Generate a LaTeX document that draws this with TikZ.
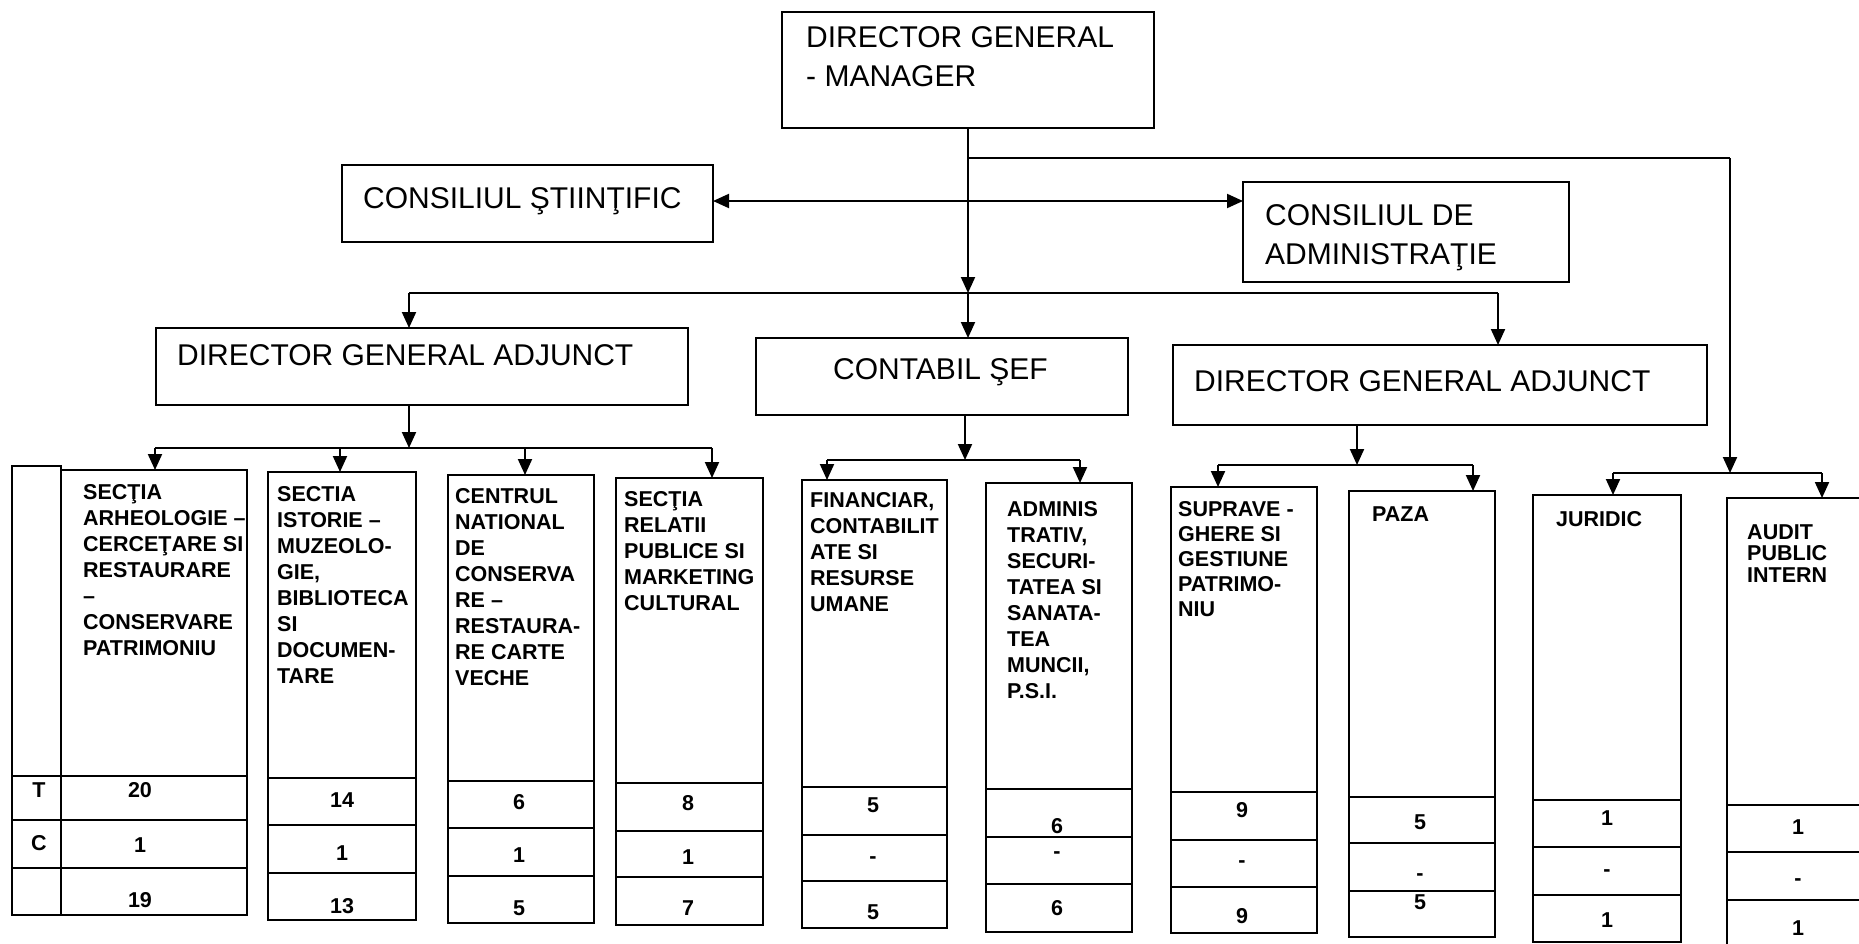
\documentclass[tikz,border=0pt]{standalone}
\usepackage{fontspec}
\setmainfont{Liberation Sans}
\usetikzlibrary{arrows.meta}
\tikzset{
  box/.style={draw, line width=2pt, rectangle, inner sep=0pt, outer sep=0pt, anchor=north west},
  big/.style={font=\fontsize{30}{39}\selectfont, inner sep=0pt, align=left, anchor=north west},
  small/.style={font=\bfseries\fontsize{21.5}{26}\selectfont, inner sep=0pt, align=left, anchor=north west},
  num/.style={font=\bfseries\fontsize{21.5}{26}\selectfont, inner sep=0pt},
  conn/.style={line width=2pt},
  arr/.style={line width=2pt, -{Triangle[width=14pt,length=16pt]}},
  darr/.style={line width=2pt, {Triangle[width=14pt,length=16pt]}-{Triangle[width=14pt,length=16pt]}},
}
\newcommand\unitbox[8]{%
  \node[box, minimum width={#3-#2}, minimum height={#8-#4}] (#1) at (#2,#4) {};
  \draw[conn] (#2,#5) -- (#3,#5);
  \draw[conn] (#2,#6) -- (#3,#6);
  \draw[conn] (#2,#7) -- (#3,#7);
}
\newcommand\unitnums[8]{%
  \node[num] (#1-1) at (#2,#3) {#4};
  \node[num] (#1-2) at (#2,#5) {#6};
  \node[num] (#1-3) at (#2,#7) {#8};
}
\begin{document}
\begin{tikzpicture}[x=1pt,y=-1pt]
\useasboundingbox (0,0) rectangle (1859,943);
\clip (0,0) rectangle (1859,943);

% ---- top level boxes
\node[box, minimum width=372, minimum height=116] (dg) at (782,12) {};
\node[big] (dgt) at (806,26) {DIRECTOR GENERAL\\- MANAGER};

\node[box, minimum width=371, minimum height=77] (cs) at (342,165) {};
\node[big] (cst) at (363,187) {CONSILIUL ŞTIINŢIFIC};

\node[box, minimum width=326, minimum height=100] (ca) at (1243,182) {};
\node[big] (cat) at (1265,204) {CONSILIUL DE\\ADMINISTRAŢIE};

\node[box, minimum width=532, minimum height=77] (dga1) at (156,328) {};
\node[big] (dga1t) at (177,344) {DIRECTOR GENERAL ADJUNCT};

\node[box, minimum width=372, minimum height=77] (csef) at (756,338) {};
\node[big] (cseft) at (833,358) {CONTABIL ŞEF};

\node[box, minimum width=534, minimum height=80] (dga2) at (1173,345) {};
\node[big] (dga2t) at (1194,370) {DIRECTOR GENERAL ADJUNCT};

% ---- bottom unit boxes
\node[box, minimum width=49, minimum height=449] (b1l) at (12,466) {};
\unitbox{b1}{61}{247}{470}{776}{820}{868}{915}
\draw[conn] (12,776) -- (61,776);
\draw[conn] (12,820) -- (61,820);
\draw[conn] (12,868) -- (61,868);
\node[num] (tlab) at (39,790) {T};
\node[num] (clab) at (39,843) {C};
\node[small] (b1t) at (83,484) {SECŢIA\\ARHEOLOGIE –\\CERCEŢARE SI\\RESTAURARE\\–\\CONSERVARE\\PATRIMONIU};
\unitnums{b1n}{140}{790}{20}{845}{1}{900}{19}

\unitbox{b2}{268}{416}{472}{778}{825}{873}{920}
\node[small] (b2t) at (277,486) {SECTIA\\ISTORIE –\\MUZEOLO-\\GIE,\\BIBLIOTECA\\SI\\DOCUMEN-\\TARE};
\unitnums{b2n}{342}{800}{14}{853}{1}{906}{13}

\unitbox{b3}{448}{594}{475}{781}{828}{876}{923}
\node[small] (b3t) at (455,488) {CENTRUL\\NATIONAL\\DE\\CONSERVA\\RE –\\RESTAURA-\\RE CARTE\\VECHE};
\unitnums{b3n}{519}{802}{6}{855}{1}{908}{5}

\unitbox{b4}{616}{763}{478}{783}{831}{877}{925}
\node[small] (b4t) at (624,491) {SECŢIA\\RELATII\\PUBLICE SI\\MARKETING\\CULTURAL};
\unitnums{b4n}{688}{803}{8}{857}{1}{908}{7}

\unitbox{b5}{802}{947}{480}{787}{835}{881}{928}
\node[small] (b5t) at (810,492) {FINANCIAR,\\CONTABILIT\\ATE SI\\RESURSE\\UMANE};
\unitnums{b5n}{873}{805}{5}{860}{-}{912}{5}

\unitbox{b6}{986}{1132}{483}{789}{837}{884}{932}
\node[small] (b6t) at (1007,501) {ADMINIS\\TRATIV,\\SECURI-\\TATEA SI\\SANATA-\\TEA\\MUNCII,\\P.S.I.};
\unitnums{b6n}{1057}{826}{6}{855}{-}{908}{6}

\unitbox{b7}{1171}{1317}{487}{792}{840}{887}{933}
\node[small, font=\bfseries\fontsize{21.5}{25}\selectfont] (b7t) at (1178,501) {SUPRAVE -\\GHERE SI\\GESTIUNE\\PATRIMO-\\NIU};
\unitnums{b7n}{1242}{810}{9}{864}{-}{916}{9}

\unitbox{b8}{1349}{1495}{491}{797}{843}{891}{937}
\node[small] (b8t) at (1372,506) {PAZA};
\unitnums{b8n}{1420}{822}{5}{877}{-}{902}{5}

\unitbox{b9}{1533}{1681}{495}{800}{847}{895}{942}
\node[small] (b9t) at (1556,511) {JURIDIC};
\unitnums{b9n}{1607}{818}{1}{873}{-}{920}{1}

\unitbox{b10}{1727}{1900}{498}{805}{852}{900}{960}
\node[small, font=\bfseries\fontsize{21.5}{21.5}\selectfont] (b10t) at (1747,524) {AUDIT\\PUBLIC\\INTERN};
\unitnums{b10n}{1798}{827}{1}{882}{-}{928}{1}

% ---- connectors, top level
\coordinate (jm) at (968,293);
\coordinate (jl) at (409,293);
\coordinate (jr) at (1498,293);
\coordinate (jt) at (968,158);
\coordinate (jtr) at (1730,158);
\coordinate (jrb) at (1730,473);
\coordinate (jrbl) at (1613,473);
\coordinate (jrbr) at (1822,473);
\coordinate (dy) at (0,201);

\draw[arr] (dg.south) -- (jm);
\draw[arr] (jm) -- (jm |- csef.north);
\draw[conn] (jl) -- (jr);
\draw[arr] (jl) -- (jl |- dga1.north);
\draw[arr] (jr) -- (jr |- dga2.north);
\draw[darr] (cs.east |- dy) -- (ca.west |- dy);
\draw[conn] (jt) -- (jtr);
\draw[arr] (jtr) -- (jrb);
\draw[conn] (jrbl) -- (jrbr);
\draw[arr] (jrbl) -- (jrbl |- b9.north);
\draw[arr] (jrbr) -- (jrbr |- b10.north);

% ---- under DGA1
\coordinate (ja) at (409,448);
\coordinate (k1) at (155,448);
\coordinate (k2) at (340,448);
\coordinate (k3) at (525,448);
\coordinate (k4) at (712,448);
\draw[arr] (ja |- dga1.south) -- (ja);
\draw[conn] (k1) -- (k4);
\draw[arr] (k1) -- (k1 |- b1.north);
\draw[arr] (k2) -- (k2 |- b2.north);
\draw[arr] (k3) -- (k3 |- b3.north);
\draw[arr] (k4) -- (k4 |- b4.north);

% ---- under CONTABIL SEF
\coordinate (jc) at (965,460);
\coordinate (k5) at (827,460);
\coordinate (k6) at (1080,460);
\draw[arr] (jc |- csef.south) -- (jc);
\draw[conn] (k5) -- (k6);
\draw[arr] (k5) -- (k5 |- b5.north);
\draw[arr] (k6) -- (k6 |- b6.north);

% ---- under DGA2
\coordinate (jd) at (1357,465);
\coordinate (k7) at (1218,465);
\coordinate (k8) at (1473,465);
\draw[arr] (jd |- dga2.south) -- (jd);
\draw[conn] (k7) -- (k8);
\draw[arr] (k7) -- (k7 |- b7.north);
\draw[arr] (k8) -- (k8 |- b8.north);
\end{tikzpicture}
\end{document}
